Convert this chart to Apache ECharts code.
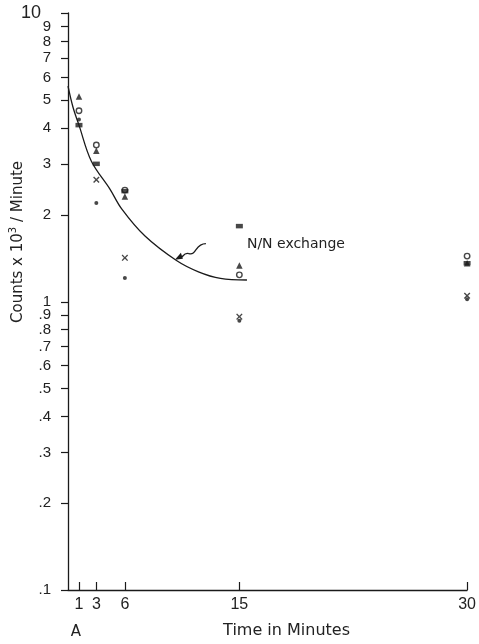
<!DOCTYPE html>
<html><head><meta charset="utf-8">
<script src="https://cdn.jsdelivr.net/npm/echarts@6/dist/echarts.min.js"></script>
<style>html,body{margin:0;padding:0;background:#fff}#c{width:479px;height:644px}</style>
</head><body><div id="c"></div>
<script>
// ---- data ----
const times = [1, 3, 6, 15, 30];
const triangleVals = [5.15, 3.34, 2.32, 1.335, 1.36];
const circleVals = [4.60, 3.50, 2.44, 1.24, 1.44];
const squareVals = [4.10, 3.01, 2.42, 1.83, 1.36];
const crossVals = [null, 2.65, 1.42, 0.888, 1.05];
const dotVals = [4.29, 2.20, 1.21, 0.86, 1.02];
const curveTimes = [0, 0.45, 1.0, 2.61, 4.4, 5.79, 7.41, 10.03, 11.86, 13.69, 15.5];
const curveVals = [5.6, 4.72, 4.1, 3.08, 2.46, 2.10, 1.69, 1.39, 1.27, 1.205, 1.19];
const xTickValues = [1, 3, 6, 15, 30];
const yTickValues = [0.1,0.2,0.3,0.4,0.5,0.6,0.7,0.8,0.9,1,2,3,4,5,6,7,8,9,10];
const yTopLabel = [10];
const yExtraLabel = [8];
const curveLabel = 'N/N exchange';
const arrowTarget = [9.9, 1.4];

const pair = (xs, ys) => xs.map((x, i) => [x, ys[i]]);
const INK = '#1a1a1a';
const FONT = 'Liberation Sans';
const crossPath = 'path://M0,1.5L1.5,0L5,3.5L8.5,0L10,1.5L6.5,5L10,8.5L8.5,10L5,6.5L1.5,10L0,8.5L3.5,5Z';
const fmtY = v => v < 1 ? '.' + Math.round(v * 10) : String(Math.round(v));

const chart = echarts.init(document.getElementById('c'), null, {renderer: 'canvas'});
const scatter = (name, vals, symbol, size, style) => ({
  name, type: 'scatter', data: pair(times, vals), symbol, symbolSize: size,
  itemStyle: style, z: 5, xAxisIndex: 0, yAxisIndex: 0
});
const labelOnlyY = (values, margin, fontSize) => ({
  type: 'log', min: 0.1, max: 10.05, logBase: 10, position: 'left', offset: 0,
  axisLine: {show: false}, axisTick: {show: false}, splitLine: {show: false},
  axisLabel: {show: true, customValues: values, margin, fontSize, color: '#222', fontFamily: FONT,
    showMinLabel: true, showMaxLabel: true, formatter: fmtY}
});
chart.setOption({
  animation: false,
  backgroundColor: '#ffffff',
  grid: {left: 68, right: 11, top: 12.9, bottom: 51.5, containLabel: false},
  xAxis: [{
    type: 'value', min: 0, max: 30,
    breaks: [
      {start: 0.2, end: 0.8, gap: 0.323},
      {start: 1.3, end: 2.7, gap: 0.543},
      {start: 3.5, end: 5.5, gap: 0.88},
      {start: 7, end: 14, gap: 5.54}
    ],
    breakArea: {show: false},
    axisLine: {show: false},
    axisTick: {show: true, inside: true, length: 8, customValues: xTickValues, lineStyle: {color: INK, width: 1.2}},
    axisLabel: {show: true, customValues: xTickValues, margin: 7, fontSize: 16, color: '#222', fontFamily: FONT,
      showMinLabel: true, showMaxLabel: true},
    splitLine: {show: false},
    name: 'Time in Minutes', nameLocation: 'middle', nameGap: 33,
    nameTextStyle: {fontSize: 16, color: '#222', fontFamily: 'DejaVu Sans', padding: [0, 0, 0, 38]}
  }, {
    type: 'value', min: 0, max: 30, position: 'bottom', offset: 0,
    axisLine: {show: true, onZero: false, lineStyle: {color: INK, width: 1.3}},
    axisTick: {show: false}, axisLabel: {show: false}, splitLine: {show: false}
  }],
  yAxis: [{
    type: 'log', min: 0.1, max: 10.05, logBase: 10,
    axisLine: {show: true, onZero: false, lineStyle: {color: INK, width: 1.3}},
    axisTick: {show: true, inside: false, length: 7, customValues: yTickValues, lineStyle: {color: INK, width: 1.2}},
    axisLabel: {show: true, customValues: yTickValues.filter(v => !yTopLabel.includes(v) && !yExtraLabel.includes(v)),
      margin: 17, fontSize: 15, color: '#222', fontFamily: FONT,
      showMinLabel: true, showMaxLabel: true, formatter: fmtY},
    splitLine: {show: false}, minorTick: {show: false}
  },
  labelOnlyY(yTopLabel, 27, 18),
  labelOnlyY(yExtraLabel, 17, 15)],
  series: [
    {name: 'curve', type: 'line', data: pair(curveTimes, curveVals), smooth: 0.35, symbol: 'none',
      lineStyle: {color: INK, width: 1.3}, z: 3, xAxisIndex: 0, yAxisIndex: 0},
    scatter('triangle', triangleVals, 'triangle', 6.5, {color: INK}),
    scatter('circle', circleVals, 'circle', 5.5, {color: '#fff', borderColor: INK, borderWidth: 1.4}),
    scatter('square', squareVals, 'rect', [7, 4.5], {color: INK}),
    scatter('cross', crossVals, crossPath, 6.5, {color: INK}),
    scatter('dot', dotVals, 'circle', 4, {color: INK})
  ]
});

const tip = chart.convertToPixel({xAxisIndex: 0, yAxisIndex: 0}, arrowTarget);
const ax = tip[0], ay = tip[1];
const x0 = chart.convertToPixel({xAxisIndex: 0}, 0);
chart.setOption({
  graphic: [
    {type: 'text', x: 18, y: 242, rotation: Math.PI / 2,
      style: {text: 'Counts x 10{s|3} / Minute', fill: '#222', font: '15px "DejaVu Sans"', align: 'center', verticalAlign: 'middle',
        rich: {s: {fontSize: 10, verticalAlign: 'top', padding: [0, 0, 9, 0], fill: '#222', fontFamily: 'DejaVu Sans'}}}},
    {type: 'text', x: x0 + 8, y: 632,
      style: {text: 'A', fill: '#222', font: '15px "DejaVu Sans"', align: 'center', verticalAlign: 'middle'}},
    {type: 'text', x: ax + 72, y: ay - 15,
      style: {text: curveLabel, fill: '#222', font: '14px "DejaVu Sans"', align: 'left', verticalAlign: 'middle'}},
    {type: 'bezierCurve', shape: {x1: ax + 31, y1: ay - 16, x2: ax + 14, y2: ay - 6, cpx1: ax + 20, cpy1: ay - 16, cpx2: ax + 22, cpy2: ay - 4},
      style: {stroke: INK, lineWidth: 1.3, fill: null}},
    {type: 'bezierCurve', shape: {x1: ax + 14, y1: ay - 6, x2: ax + 4, y2: ay - 2, cpx1: ax + 8, cpy1: ay - 8, cpx2: ax + 8, cpy2: ay},
      style: {stroke: INK, lineWidth: 1.3, fill: null}},
    {type: 'polygon', shape: {points: [[ax, ay], [ax + 6, ay - 7], [ax + 8, ay - 1]]}, style: {fill: INK}}
  ]
});
</script></body></html>
